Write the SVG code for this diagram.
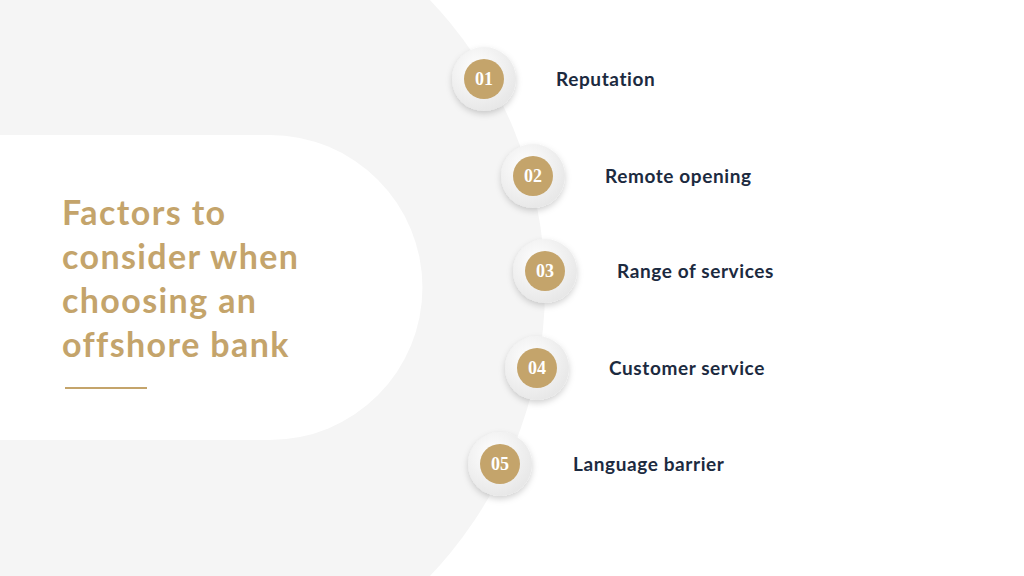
<svg xmlns="http://www.w3.org/2000/svg" width="1024" height="576" viewBox="0 0 1024 576">
<defs>
<style>
.lbl{font-family:Lato,"Open Sans",sans-serif;font-weight:700;font-size:19px;fill:#1c2a40;letter-spacing:0.6px}
.num{font-family:"Liberation Serif",serif;font-weight:700;font-size:18px;fill:#fff;text-anchor:middle}
.ttl{font-family:Lato,"Open Sans",sans-serif;font-weight:700;font-size:34px;fill:#c4a46b;letter-spacing:1.4px}
.outer{filter:url(#sh);fill:url(#og)}
.inner{fill:#c4a46b}
</style>
<filter id="sh" x="-50%" y="-50%" width="200%" height="200%">
<feDropShadow dx="0" dy="3" stdDeviation="3" flood-color="#000" flood-opacity="0.18"/>
</filter>
<radialGradient id="og" cx="0.4" cy="0.35" r="0.7">
<stop offset="0" stop-color="#ffffff"/><stop offset="1" stop-color="#e6e6e6"/>
</radialGradient>
</defs>
<rect width="1024" height="576" fill="#fff"/>
<circle cx="127" cy="288" r="418" fill="#f5f5f5"/>
<path d="M0,135 H270 A152.5 152.5 0 0 1 270,440 H0 Z" fill="#fff"/>
<g id="title">
<text class="ttl" x="62" y="225">Factors to</text>
<text class="ttl" x="62" y="269">consider when</text>
<text class="ttl" x="62" y="313">choosing an</text>
<text class="ttl" x="62" y="357">offshore bank</text>
<line x1="65" y1="388" x2="147" y2="388" stroke="#c4a46b" stroke-width="2"/>
</g>
<g id="connectors"/>
<g id="n1"><circle class="outer" cx="484" cy="79" r="32"/><circle class="inner" cx="484" cy="79" r="20"/><text class="num" x="484" y="85">01</text><text class="lbl" x="556" y="86">Reputation</text></g>
<g id="n2"><circle class="outer" cx="533" cy="176" r="32"/><circle class="inner" cx="533" cy="176" r="20"/><text class="num" x="533" y="182">02</text><text class="lbl" x="605" y="183">Remote opening</text></g>
<g id="n3"><circle class="outer" cx="545" cy="271" r="32"/><circle class="inner" cx="545" cy="271" r="20"/><text class="num" x="545" y="277">03</text><text class="lbl" x="617" y="278">Range of services</text></g>
<g id="n4"><circle class="outer" cx="537" cy="368" r="32"/><circle class="inner" cx="537" cy="368" r="20"/><text class="num" x="537" y="374">04</text><text class="lbl" x="609" y="375">Customer service</text></g>
<g id="n5"><circle class="outer" cx="500" cy="464" r="32"/><circle class="inner" cx="500" cy="464" r="20"/><text class="num" x="500" y="470">05</text><text class="lbl" x="573" y="471">Language barrier</text></g>
</svg>
